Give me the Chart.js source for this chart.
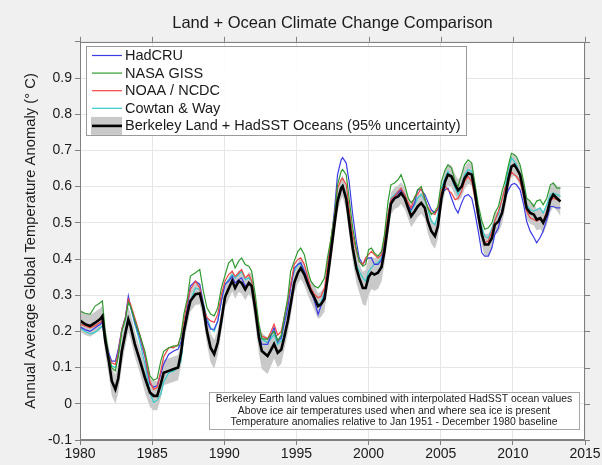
<!DOCTYPE html>
<html><head><meta charset="utf-8">
<script src="https://cdn.jsdelivr.net/npm/chart.js@4"></script>
<style>html,body{margin:0;padding:0;background:#f0f0f0;}#wrap{width:602px;height:465px;}</style>
</head><body><div id="wrap"><canvas id="c" width="602" height="465"></canvas></div>
<script>
const titleText = 'Land + Ocean Climate Change Comparison';
const yAxisTitle = 'Annual Average Global Temperature Anomaly (\u00B0 C)';
const seriesNames = ['HadCRU', 'NASA GISS', 'NOAA / NCDC', 'Cowtan & Way', 'Berkeley Land + HadSST Oceans (95% uncertainty)'];
const noteLines = [
  'Berkeley Earth land values combined with interpolated HadSST ocean values',
  'Above ice air temperatures used when and where sea ice is present',
  'Temperature anomalies relative to Jan 1951 - December 1980 baseline'
];
const xTicks = [1980, 1985, 1990, 1995, 2000, 2005, 2010, 2015];

const years = [
1980.0,1980.35,1980.7,1981.05,1981.4,1981.55,1981.75,1982.0,1982.2,1982.45,
1982.65,1982.9,1983.15,1983.35,1983.5,1983.8,1984.15,1984.5,1984.85,1985.1,
1985.35,1985.6,1985.8,1986.15,1986.5,1986.8,1987.0,1987.2,1987.45,1987.65,
1988.0,1988.3,1988.55,1988.8,1989.05,1989.3,1989.55,1989.8,1990.05,1990.3,
1990.55,1990.75,1991.0,1991.2,1991.45,1991.7,1991.9,1992.15,1992.4,1992.6,
1993.0,1993.2,1993.45,1993.7,1993.95,1994.15,1994.4,1994.6,1994.85,1995.1,
1995.3,1995.55,1995.8,1996.0,1996.25,1996.5,1996.7,1996.95,1997.15,1997.4,
1997.65,1997.85,1998.1,1998.2,1998.45,1998.65,1998.9,1999.15,1999.35,1999.6,
1999.8,2000.0,2000.2,2000.4,2000.65,2000.9,2001.1,2001.35,2001.55,2001.8,
2002.05,2002.25,2002.5,2002.75,2002.95,2003.2,2003.4,2003.65,2003.9,2004.1,
2004.35,2004.6,2004.8,2005.05,2005.3,2005.5,2005.75,2006.0,2006.2,2006.45,
2006.65,2006.9,2007.15,2007.35,2007.6,2007.85,2008.05,2008.3,2008.55,2008.75,
2009.0,2009.25,2009.45,2009.7,2009.9,2010.1,2010.25,2010.5,2010.75,2010.95,
2011.2,2011.45,2011.65,2011.9,2012.1,2012.35,2012.6,2012.8,2013.05,2013.3];

const berkeley = [
0.230,0.220,0.215,0.224,0.234,0.242,0.174,0.118,0.063,0.040,
0.070,0.146,0.196,0.233,0.215,0.165,0.120,0.072,0.031,0.022,
0.022,0.055,0.086,0.091,0.096,0.100,0.140,0.200,0.250,0.284,
0.303,0.305,0.265,0.200,0.155,0.137,0.170,0.230,0.295,0.318,
0.340,0.320,0.339,0.334,0.316,0.334,0.325,0.260,0.183,0.146,
0.132,0.146,0.165,0.141,0.150,0.183,0.229,0.275,0.334,0.362,
0.375,0.357,0.330,0.311,0.293,0.270,0.275,0.290,0.345,0.421,
0.500,0.559,0.596,0.601,0.566,0.505,0.430,0.375,0.348,0.320,
0.320,0.350,0.362,0.357,0.362,0.378,0.421,0.495,0.553,0.568,
0.573,0.582,0.568,0.540,0.518,0.532,0.545,0.555,0.541,0.506,
0.477,0.463,0.490,0.568,0.614,0.633,0.628,0.605,0.590,0.600,
0.623,0.637,0.633,0.590,0.523,0.468,0.440,0.440,0.458,0.495,
0.504,0.527,0.566,0.623,0.655,0.660,0.651,0.633,0.585,0.541,
0.527,0.523,0.509,0.513,0.500,0.523,0.564,0.578,0.568,0.559];

const berkeleyUnc = [
0.030,0.030,0.030,0.030,0.030,0.030,0.035,0.040,0.040,0.040,
0.040,0.040,0.035,0.035,0.035,0.035,0.035,0.040,0.040,0.040,
0.040,0.040,0.035,0.035,0.035,0.035,0.035,0.030,0.030,0.030,
0.030,0.030,0.030,0.035,0.040,0.040,0.035,0.030,0.030,0.030,
0.030,0.030,0.030,0.030,0.030,0.030,0.035,0.040,0.045,0.050,
0.050,0.045,0.040,0.040,0.040,0.035,0.035,0.035,0.030,0.030,
0.030,0.030,0.030,0.030,0.035,0.035,0.035,0.035,0.030,0.030,
0.030,0.030,0.030,0.030,0.030,0.035,0.035,0.040,0.040,0.045,
0.050,0.050,0.045,0.045,0.045,0.040,0.035,0.035,0.030,0.030,
0.030,0.030,0.030,0.030,0.030,0.030,0.030,0.030,0.030,0.035,
0.035,0.035,0.035,0.030,0.030,0.030,0.030,0.030,0.030,0.030,
0.030,0.030,0.030,0.030,0.030,0.030,0.030,0.030,0.030,0.030,
0.030,0.030,0.030,0.030,0.030,0.030,0.030,0.030,0.030,0.030,
0.030,0.030,0.030,0.030,0.030,0.030,0.035,0.035,0.035,0.040];

const hadcru = [
0.213,0.205,0.200,0.210,0.220,0.225,0.180,0.140,0.118,0.118,
0.150,0.206,0.240,0.298,0.270,0.225,0.183,0.130,0.055,0.046,
0.050,0.083,0.110,0.137,0.146,0.151,0.170,0.210,0.270,0.325,
0.339,0.330,0.275,0.229,0.206,0.206,0.229,0.284,0.330,0.339,
0.352,0.334,0.343,0.348,0.325,0.334,0.325,0.265,0.190,0.165,
0.164,0.185,0.210,0.170,0.183,0.220,0.265,0.320,0.375,0.385,
0.390,0.366,0.339,0.311,0.284,0.247,0.270,0.302,0.366,0.449,
0.541,0.633,0.674,0.680,0.665,0.614,0.523,0.449,0.403,0.385,
0.397,0.403,0.403,0.385,0.385,0.397,0.440,0.513,0.559,0.573,
0.582,0.591,0.568,0.545,0.536,0.555,0.591,0.591,0.578,0.559,
0.536,0.527,0.536,0.582,0.591,0.596,0.568,0.541,0.527,0.555,
0.573,0.578,0.568,0.532,0.477,0.417,0.408,0.408,0.431,0.468,
0.486,0.532,0.568,0.591,0.605,0.609,0.605,0.591,0.550,0.505,
0.477,0.460,0.445,0.460,0.477,0.509,0.545,0.545,0.541,0.541];

const giss = [
0.256,0.250,0.247,0.270,0.279,0.284,0.200,0.130,0.100,0.091,
0.130,0.200,0.235,0.280,0.270,0.230,0.190,0.145,0.077,0.065,
0.070,0.118,0.145,0.155,0.160,0.160,0.190,0.248,0.293,0.353,
0.362,0.371,0.311,0.265,0.248,0.243,0.265,0.320,0.355,0.389,
0.399,0.375,0.394,0.403,0.385,0.380,0.366,0.300,0.220,0.180,
0.178,0.190,0.200,0.174,0.190,0.238,0.293,0.366,0.394,0.421,
0.430,0.412,0.366,0.339,0.325,0.320,0.330,0.348,0.403,0.458,
0.523,0.605,0.642,0.647,0.633,0.568,0.486,0.430,0.394,0.380,
0.385,0.426,0.430,0.417,0.408,0.421,0.467,0.559,0.605,0.610,
0.619,0.633,0.605,0.568,0.555,0.568,0.591,0.600,0.568,0.541,
0.523,0.532,0.545,0.614,0.646,0.660,0.651,0.614,0.600,0.633,
0.660,0.674,0.665,0.614,0.550,0.505,0.482,0.486,0.500,0.527,
0.545,0.587,0.614,0.660,0.692,0.688,0.683,0.660,0.614,0.568,
0.560,0.545,0.560,0.564,0.550,0.568,0.605,0.610,0.596,0.596];

const noaa = [
0.220,0.215,0.210,0.216,0.225,0.230,0.180,0.130,0.113,0.109,
0.140,0.206,0.238,0.289,0.275,0.238,0.190,0.135,0.061,0.040,
0.045,0.091,0.130,0.155,0.155,0.164,0.187,0.229,0.284,0.316,
0.339,0.320,0.265,0.238,0.229,0.225,0.247,0.302,0.339,0.357,
0.366,0.352,0.362,0.371,0.348,0.357,0.339,0.284,0.210,0.187,
0.180,0.196,0.220,0.190,0.200,0.238,0.284,0.330,0.385,0.399,
0.403,0.385,0.348,0.320,0.302,0.293,0.297,0.320,0.385,0.458,
0.523,0.596,0.619,0.623,0.605,0.541,0.467,0.421,0.394,0.385,
0.403,0.412,0.421,0.412,0.403,0.412,0.458,0.523,0.564,0.573,
0.587,0.596,0.578,0.555,0.541,0.573,0.578,0.596,0.564,0.545,
0.527,0.523,0.541,0.591,0.600,0.591,0.582,0.564,0.568,0.587,
0.614,0.628,0.614,0.573,0.514,0.468,0.445,0.450,0.477,0.505,
0.532,0.564,0.596,0.614,0.640,0.633,0.628,0.614,0.573,0.532,
0.514,0.509,0.505,0.509,0.505,0.532,0.560,0.568,0.564,0.560];

const cowtan = [
0.210,0.200,0.193,0.198,0.210,0.215,0.170,0.130,0.105,0.100,
0.130,0.200,0.232,0.285,0.268,0.220,0.170,0.110,0.031,0.004,
0.010,0.027,0.060,0.086,0.091,0.100,0.118,0.190,0.256,0.284,
0.320,0.316,0.275,0.238,0.210,0.200,0.229,0.284,0.330,0.343,
0.357,0.348,0.357,0.366,0.343,0.348,0.339,0.275,0.200,0.178,
0.169,0.178,0.192,0.164,0.174,0.229,0.275,0.330,0.366,0.385,
0.385,0.366,0.339,0.316,0.293,0.275,0.279,0.311,0.366,0.430,
0.504,0.568,0.600,0.605,0.578,0.523,0.440,0.385,0.366,0.348,
0.339,0.366,0.376,0.385,0.390,0.403,0.449,0.523,0.568,0.578,
0.587,0.591,0.578,0.550,0.532,0.550,0.568,0.578,0.560,0.541,
0.504,0.495,0.523,0.596,0.623,0.642,0.623,0.596,0.578,0.600,
0.633,0.647,0.642,0.596,0.532,0.486,0.463,0.458,0.486,0.509,
0.523,0.568,0.596,0.651,0.679,0.670,0.660,0.633,0.582,0.550,
0.536,0.532,0.536,0.541,0.527,0.550,0.578,0.582,0.578,0.573];

const colors = {had:'#3b3be6', giss:'#2f9a2f', noaa:'#f04444', cw:'#33cccc', bk:'#000000', band:'#c9c9c9'};
const FONT = "'Liberation Sans', Arial, sans-serif";

const pts = arr => years.map((x, i) => ({x: x, y: arr[i]}));
const bandHi = years.map((x, i) => ({x: x, y: berkeley[i] + berkeleyUnc[i]}));
const bandLo = years.map((x, i) => ({x: x, y: berkeley[i] - berkeleyUnc[i]}));

const line = (label, data, color, w, order) => ({
  label, data, borderColor: color, backgroundColor: color, borderWidth: w,
  pointRadius: 0, tension: 0, fill: false, order
});

const legendItems = [
  {label: seriesNames[0], color: colors.had},
  {label: seriesNames[1], color: colors.giss},
  {label: seriesNames[2], color: colors.noaa},
  {label: seriesNames[3], color: colors.cw},
  {label: seriesNames[4], color: colors.bk, band: true}
];

const decor = {
  id: 'decor',
  beforeDraw(chart) {
    const ctx = chart.ctx, a = chart.chartArea;
    ctx.save();
    ctx.fillStyle = '#f0f0f0';
    ctx.fillRect(0, 0, chart.width, chart.height);
    ctx.fillStyle = '#ffffff';
    ctx.fillRect(a.left, a.top, a.right - a.left, a.bottom - a.top);
    ctx.restore();
  },
  afterDraw(chart) {
    const ctx = chart.ctx, a = chart.chartArea;
    const xs = chart.scales.x, ys = chart.scales.y;
    ctx.save();
    ctx.strokeStyle = '#808080';
    ctx.lineWidth = 1;
    ctx.strokeRect(Math.round(a.left) + 0.5, Math.round(a.top) + 0.5, Math.round(a.right - a.left) - 1, Math.round(a.bottom - a.top) - 1);
    ctx.beginPath();
    xTicks.forEach(v => {
      const px = Math.round(xs.getPixelForValue(v)) + 0.5;
      ctx.moveTo(px, a.top); ctx.lineTo(px, a.top - 5);
    });
    ys.ticks.forEach(t => {
      const py = Math.round(ys.getPixelForValue(t.value)) + 0.5;
      ctx.moveTo(a.right, py); ctx.lineTo(a.right + 5, py);
    });
    ctx.stroke();

    // legend
    const lx = 86, ly = 46, lw = 380, lh = 89;
    ctx.fillStyle = 'rgba(255,255,255,0.92)';
    ctx.fillRect(lx, ly, lw, lh);
    ctx.strokeStyle = '#9a9a9a';
    ctx.strokeRect(lx + 0.5, ly + 0.5, lw, lh);
    ctx.font = '14.5px ' + FONT;
    ctx.textBaseline = 'middle';
    ctx.textAlign = 'left';
    legendItems.forEach((it, i) => {
      const cy = 55.5 + i * 17.6;
      if (it.band) {
        ctx.fillStyle = colors.band;
        ctx.fillRect(91, cy - 9, 31, 18);
        ctx.strokeStyle = it.color; ctx.lineWidth = 2.6;
      } else {
        ctx.strokeStyle = it.color; ctx.lineWidth = 1.2;
      }
      ctx.beginPath(); ctx.moveTo(92, cy); ctx.lineTo(122, cy); ctx.stroke();
      ctx.fillStyle = '#1a1a1a';
      ctx.fillText(it.label, 125, cy + 0.5);
    });

    // note box
    const nx = 209, ny = 392, nw = 370, nh = 37;
    ctx.fillStyle = 'rgba(255,255,255,0.95)';
    ctx.fillRect(nx, ny, nw, nh);
    ctx.strokeStyle = '#a8a8a8'; ctx.lineWidth = 1;
    ctx.strokeRect(nx + 0.5, ny + 0.5, nw, nh);
    ctx.font = '10.4px ' + FONT;
    ctx.fillStyle = '#1a1a1a';
    ctx.textAlign = 'center';
    noteLines.forEach((t, i) => ctx.fillText(t, nx + nw / 2, 399.5 + i * 11.5));
    ctx.restore();
  }
};

new Chart(document.getElementById('c'), {
  type: 'line',
  data: {
    datasets: [
      {label: 'upper', data: bandHi, borderWidth: 0, borderColor: 'rgba(0,0,0,0)', pointRadius: 0, fill: false, order: 10},
      {label: 'lower', data: bandLo, borderWidth: 0, borderColor: 'rgba(0,0,0,0)', backgroundColor: colors.band, pointRadius: 0, fill: '-1', order: 10},
      line(seriesNames[3], pts(cowtan), colors.cw, 1.2, 6),
      line(seriesNames[0], pts(hadcru), colors.had, 1.2, 5),
      line(seriesNames[2], pts(noaa), colors.noaa, 1.2, 4),
      line(seriesNames[1], pts(giss), colors.giss, 1.2, 3),
      line(seriesNames[4], pts(berkeley), colors.bk, 2.6, 1)
    ]
  },
  options: {
    responsive: false,
    animation: false,
    devicePixelRatio: 1,
    layout: {padding: {left: 0, right: 17, top: 0, bottom: 0}},
    plugins: {
      legend: {display: false},
      tooltip: {enabled: false},
      filler: {drawTime: 'beforeDatasetsDraw'},
      title: {
        display: true, text: titleText, color: '#1a1a1a', fullSize: false,
        font: {family: FONT, size: 16.5, weight: 'normal'},
        padding: {top: 14, bottom: 8}
      }
    },
    scales: {
      x: {
        type: 'linear', min: 1980, max: 2015,
        afterBuildTicks: s => { s.ticks = xTicks.map(v => ({value: v})); },
        ticks: {callback: v => String(v), color: '#1a1a1a', font: {family: FONT, size: 14}, padding: 1, maxRotation: 0, autoSkip: false},
        grid: {color: '#e6e6e6', tickLength: 5, tickColor: '#808080'},
        border: {display: true, color: '#808080'},
        afterFit: s => { s.height = 25; }
      },
      y: {
        min: -0.1, max: 1.0,
        ticks: {
          stepSize: 0.1, color: '#1a1a1a', font: {family: FONT, size: 14}, padding: 3,
          callback: v => (Math.abs(v - 1) < 1e-6 ? '' : String(Number(v.toFixed(1))))
        },
        grid: {color: '#e6e6e6', tickLength: 5, tickColor: '#808080'},
        border: {display: true, color: '#808080'},
        title: {display: true, text: yAxisTitle, color: '#1a1a1a', font: {family: FONT, size: 14.8}, padding: {top: 22, bottom: 0}},
        afterFit: s => { s.width = 80; }
      }
    }
  },
  plugins: [decor]
});
</script>
</body></html>
